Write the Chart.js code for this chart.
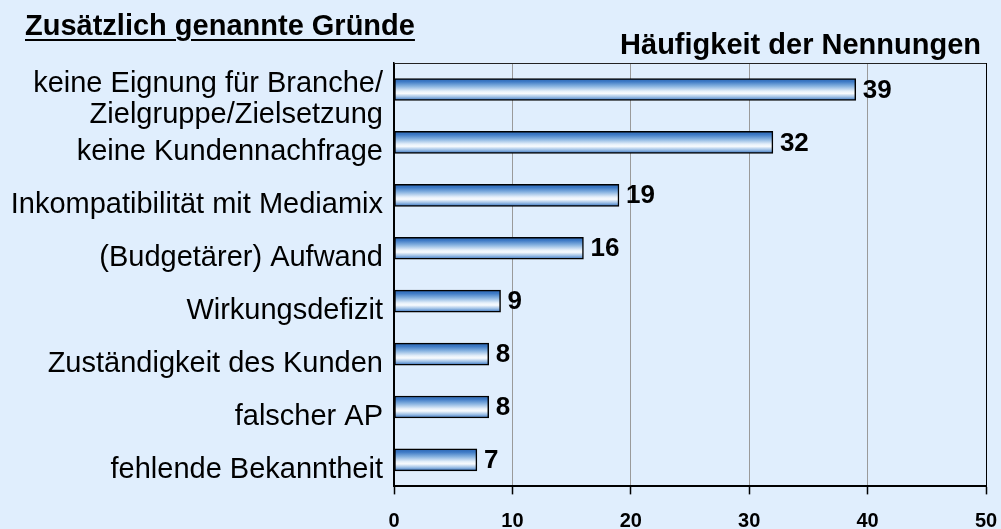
<!DOCTYPE html>
<html>
<head>
<meta charset="utf-8">
<script src="https://cdn.jsdelivr.net/npm/chart.js@4.4.1/dist/chart.umd.min.js"></script>
<style>
  html, body { margin: 0; padding: 0; background: #E0EEFD; }
  #wrap { position: relative; width: 1001px; height: 529px; overflow: hidden; }
  canvas { position: absolute; left: 0; top: 0; }
  .t { position: absolute; font-family: 'Liberation Sans', Arial, sans-serif; font-weight: bold; line-height: 1; color: #000; white-space: nowrap; }
  #title { left: 25px; top: 11px; font-size: 29px; text-decoration: underline; text-decoration-thickness: 2px; text-underline-offset: 4px; }
  #subtitle { right: 20px; top: 30px; font-size: 29px; }
</style>
</head>
<body>
<div id="wrap">
  <canvas id="c" width="1001" height="529"></canvas>
  <div class="t" id="title">Zusätzlich genannte Gründe</div>
  <div class="t" id="subtitle">Häufigkeit der Nennungen</div>
</div>
<script>
const categories = [
  ['keine Eignung für Branche/', 'Zielgruppe/Zielsetzung'],
  'keine Kundennachfrage',
  'Inkompatibilität mit Mediamix',
  '(Budgetärer) Aufwand',
  'Wirkungsdefizit',
  'Zuständigkeit des Kunden',
  'falscher AP',
  'fehlende Bekanntheit'
];
const counts = [39, 32, 19, 16, 9, 8, 8, 7];
const xMin = 0, xMax = 50, xStep = 10;

const FONT = "'Liberation Sans', Arial, sans-serif";
const BAR_T = 22;

function barGradient(c) {
  const chart = c.chart;
  const ys = chart.scales && chart.scales.y;
  if (!chart.chartArea || !ys) return '#7aa6da';
  const yc = ys.getPixelForValue(c.dataIndex);
  const g = chart.ctx.createLinearGradient(0, yc - BAR_T / 2, 0, yc + BAR_T / 2);
  g.addColorStop(0, '#2A66B4');
  g.addColorStop(0.15, '#3F7BC6');
  g.addColorStop(0.35, '#86B2E0');
  g.addColorStop(0.58, '#E6F0FA');
  g.addColorStop(0.68, '#F8FBFE');
  g.addColorStop(0.84, '#9EC0E6');
  g.addColorStop(1, '#336FBC');
  return g;
}

const valueLabels = {
  id: 'valueLabels',
  afterDatasetsDraw(chart) {
    const ctx = chart.ctx;
    const meta = chart.getDatasetMeta(0);
    ctx.save();
    ctx.font = 'bold 26px ' + FONT;
    ctx.fillStyle = '#000';
    ctx.textBaseline = 'middle';
    ctx.textAlign = 'left';
    meta.data.forEach((bar, i) => {
      ctx.fillText(String(chart.data.datasets[0].data[i]), bar.x + 7, bar.y + 1);
    });
    ctx.restore();
  }
};

const topBorder = {
  id: 'topBorder',
  beforeDatasetsDraw(chart) {
    const { ctx, chartArea: a } = chart;
    ctx.save();
    ctx.strokeStyle = '#222';
    ctx.lineWidth = 1;
    ctx.beginPath();
    ctx.moveTo(a.left, a.top + 0.5);
    ctx.lineTo(a.right, a.top + 0.5);
    ctx.stroke();
    ctx.restore();
  }
};

new Chart(document.getElementById('c'), {
  type: 'bar',
  data: {
    labels: categories,
    datasets: [{
      data: counts,
      backgroundColor: barGradient,
      borderColor: '#000',
      borderWidth: 1.5,
      borderSkipped: false,
      barThickness: BAR_T
    }]
  },
  plugins: [valueLabels, topBorder],
  options: {
    indexAxis: 'y',
    responsive: false,
    animation: false,
    devicePixelRatio: 1,
    layout: { padding: { top: 63, right: 15, bottom: 0, left: 0 } },
    plugins: {
      legend: { display: false },
      tooltip: { enabled: false },
      title: { display: false }
    },
    scales: {
      x: {
        type: 'linear',
        min: xMin,
        max: xMax,
        ticks: {
          stepSize: xStep,
          color: '#000',
          padding: 15,
          maxRotation: 0,
          font: { family: FONT, size: 20, weight: 'bold' }
        },
        grid: {
          color: (c) => (c.tick && (c.tick.value === xMin || c.tick.value === xMax)) ? '#000' : '#9a9a9a',
          lineWidth: 1,
          tickColor: '#000',
          tickLength: 8,
          tickWidth: 1.5
        },
        border: { display: true, color: '#000', width: 2 },
        afterFit(s) { s.height = 41; s.paddingRight = 11; s.paddingLeft = 0; }
      },
      y: {
        type: 'category',
        ticks: {
          color: '#000',
          padding: 11,
          labelOffset: 10,
          autoSkip: false,
          font: { family: FONT, size: 29, lineHeight: 1.09 }
        },
        grid: { display: false, drawTicks: false },
        border: { display: true, color: '#000', width: 1.5 },
        afterFit(s) { s.width = 394; }
      }
    }
  }
});
</script>
</body>
</html>
